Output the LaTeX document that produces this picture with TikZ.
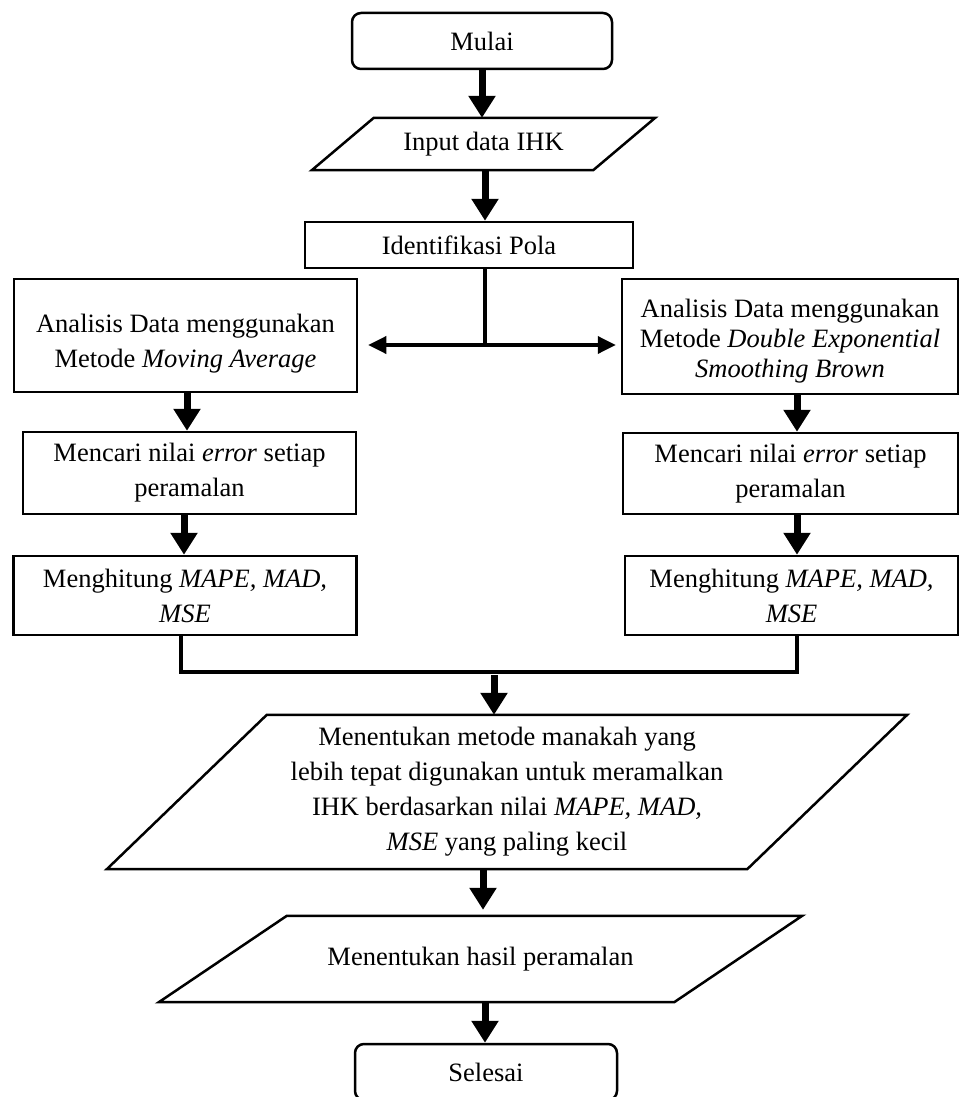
\documentclass[tikz,border=0pt]{standalone}
\usepackage{fontspec}
\setmainfont{Liberation Serif}
\usetikzlibrary{arrows.meta,calc}
\newcommand\drawpar[2]{\draw[shapeline] ($(#1.north west)+(#2,0)$) -- (#1.north east) -- ($(#1.south east)+(-#2,0)$) -- (#1.south west) -- cycle;}
\newcommand\dn[1]{\rule{0pt}{#1pt}}
\begin{document}
\begin{tikzpicture}[x=1pt,y=-1pt,
  font=\fontsize{26.5}{35}\selectfont,
  shapeline/.style={line width=2.5pt, line join=miter},
  box/.style={draw, line width=2.5pt, inner sep=0pt, align=center},
  term/.style={box, rounded corners=9pt},
  io/.style={inner sep=0pt, align=center},
  fat/.style={line width=7pt, -{Triangle[width=26pt,length=22pt]}},
  thinline/.style={line width=3.5pt},
  dbl/.style={line width=3.5pt, {Triangle[width=17pt,length=18pt]}-{Triangle[width=17pt,length=18pt]}}
]
\useasboundingbox (0,0) rectangle (963,1097);
\clip (0,0) rectangle (963,1097);

% nodes
\node[term, minimum width=260pt, minimum height=56pt] (start) at (482,41) {Mulai};
\node[io, minimum width=343pt, minimum height=52pt] (inp) at (483.5,144) {Input data IHK};
\drawpar{inp}{62}
\node[box, minimum width=328pt, minimum height=46pt] (idp) at (469,245) {Identifikasi Pola};

\node[box, minimum width=343pt, minimum height=113pt] (ma) at (185.5,335.5)
  {\dn{34}Analisis Data menggunakan\\Metode \textit{Moving Average}};
\node[box, minimum width=336pt, minimum height=115pt, font=\fontsize{26.5}{30}\selectfont] (des) at (790,336.5)
  {\dn{27}Analisis Data menggunakan\\Metode \textit{Double Exponential}\\\textit{Smoothing Brown}};

\node[box, minimum width=333pt, minimum height=82pt] (er1) at (189.5,473)
  {Mencari nilai \textit{error} setiap\\peramalan};
\node[box, minimum width=335pt, minimum height=81pt] (er2) at (790.5,473.5)
  {Mencari nilai \textit{error} setiap\\peramalan};

\node[box, minimum width=343pt, minimum height=79pt] (mh1) at (185,595.5)
  {Menghitung \textit{MAPE, MAD,}\\\textit{MSE}};
\node[box, minimum width=333pt, minimum height=79pt] (mh2) at (791.5,595.5)
  {Menghitung \textit{MAPE, MAD,}\\\textit{MSE}};

\node[io, minimum width=800pt, minimum height=154pt] (dec) at (507,792)
  {Menentukan metode manakah yang\\lebih tepat digunakan untuk meramalkan\\IHK berdasarkan nilai \textit{MAPE, MAD,}\\\textit{MSE} yang paling kecil};
\drawpar{dec}{160}

\node[io, minimum width=643pt, minimum height=86pt] (res) at (480.5,959) {Menentukan hasil peramalan};
\drawpar{res}{128}

\node[term, minimum width=262pt, minimum height=56pt] (stop) at (486,1072) {Selesai};

% coordinates
\coordinate (split) at (485,345);
\coordinate (merge) at (494,672);

% connectors
\draw[fat] (start.south) -- (inp.north -| start.south);
\draw[fat] (inp.south -| split) -- (idp.north -| split);
\draw[thinline] (idp.south -| split) -- (split);
\draw[dbl, shorten <=10pt, shorten >=5pt] (ma.east |- split) -- (des.west |- split);

\draw[fat] (ma.south -| 187,0) -- (er1.north -| 187,0);
\draw[fat] (des.south -| 797,0) -- (er2.north -| 797,0);
\draw[fat] (er1.south -| 184,0) -- (mh1.north -| 184,0);
\draw[fat] (er2.south -| 797,0) -- (mh2.north -| 797,0);

\draw[thinline, line join=miter] (mh1.south -| 181,0) -- (181,0 |- merge) -- (797,0 |- merge) -- (mh2.south -| 797,0);
\draw[fat] ($(merge)+(0,3)$) -- (dec.north -| merge);
\draw[fat, shorten >=6pt] (dec.south -| 483,0) -- (res.north -| 483,0);
\draw[fat] (res.south -| 485,0) -- (stop.north -| 485,0);
\end{tikzpicture}
\end{document}
